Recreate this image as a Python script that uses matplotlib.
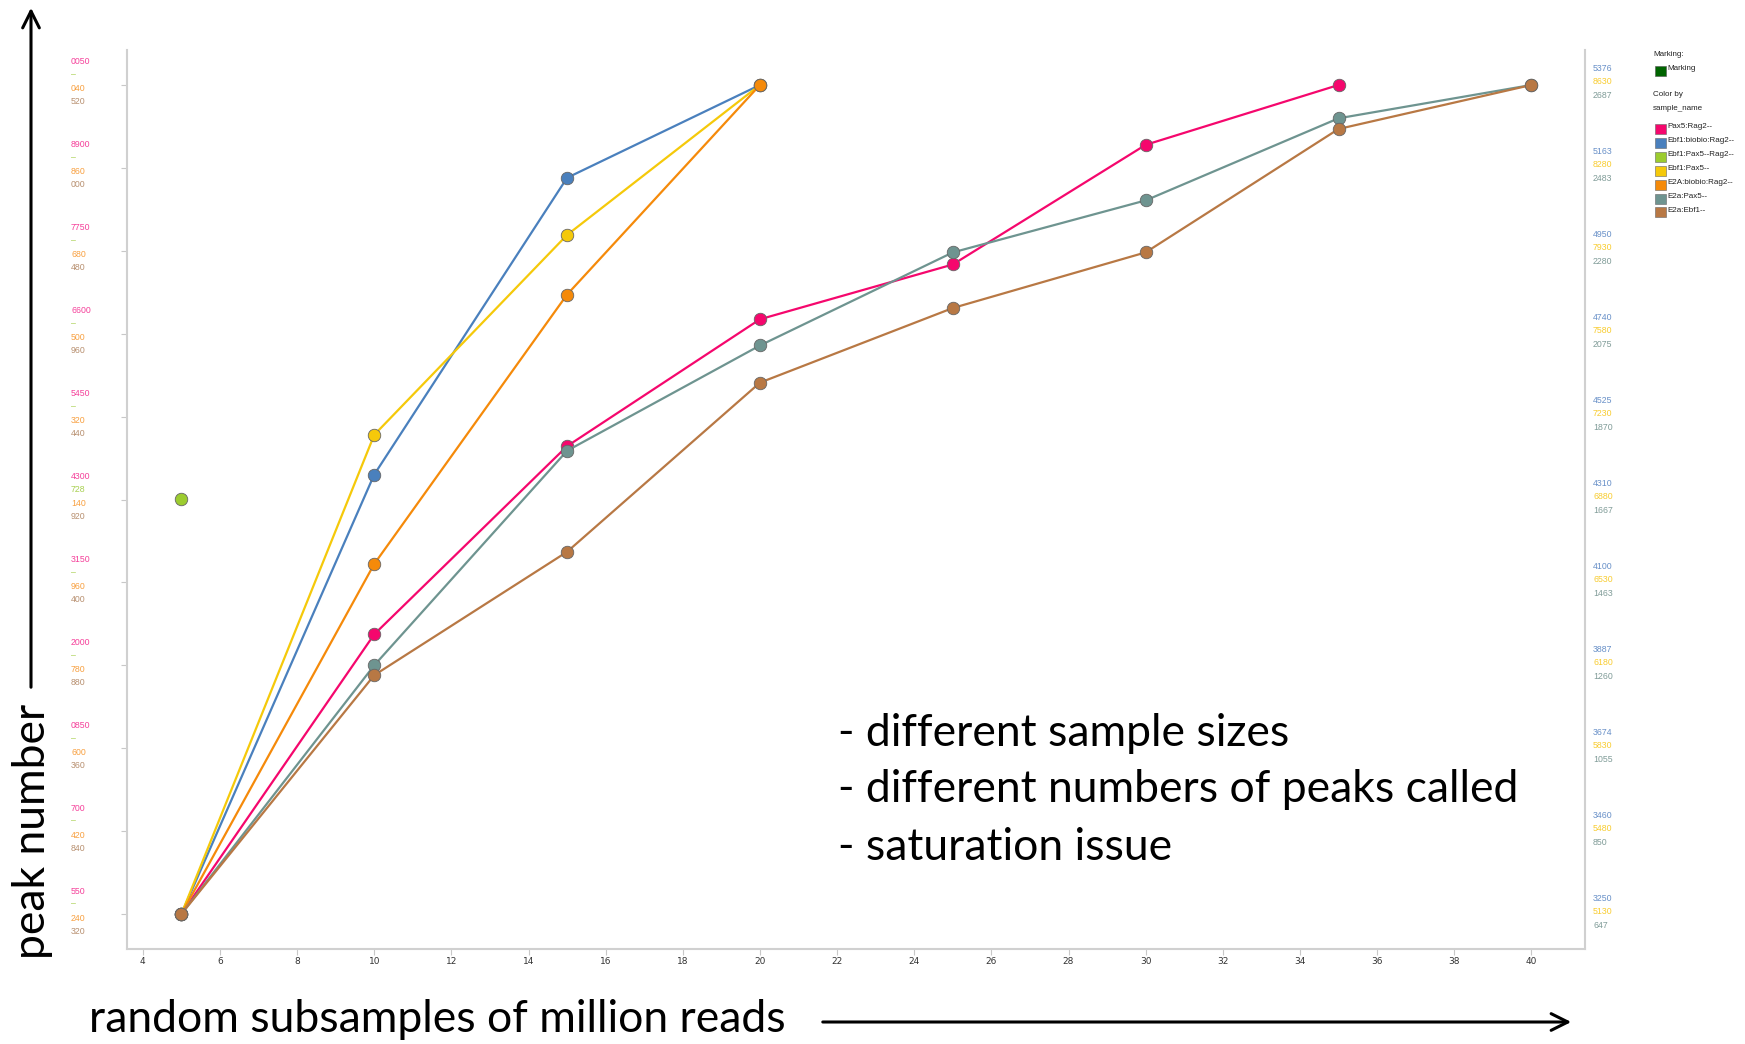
import matplotlib
matplotlib.use('Agg')
import matplotlib.pyplot as plt
from matplotlib.patches import Rectangle, FancyArrowPatch
from matplotlib.transforms import blended_transform_factory, offset_copy

# data: million reads vs peak number, each sample has its own y scale
x_long = [5, 10, 15, 20, 25, 30, 35, 40]
x_short = [5, 10, 15, 20]

pax5_rag2 = [8550, 12430, 15040, 16800, 17560, 19220, 20050]
ebf1_biobio = [3250, 4377, 5138, 5376]
ebf1_pax5_rag2 = [728]
ebf1_pax5 = [5130, 7153, 7997, 8630]
e2a_biobio = [1240, 2000, 2585, 3040]
e2a_pax5 = [647, 1259, 1787, 2046, 2275, 2403, 2605, 2687]
e2a_ebf1 = [320, 1818, 2592, 3653, 4121, 4470, 5244, 5520]

names = ['Pax5:Rag2--', 'Ebf1:biobio:Rag2--', 'Ebf1:Pax5--Rag2--', 'Ebf1:Pax5--',
         'E2A:biobio:Rag2--', 'E2a:Pax5--', 'E2a:Ebf1--']
colors = ['#f5076d', '#4a80bd', '#9ccc2f', '#f5c90a', '#f58a0a', '#6e9490', '#b87844']

# axis tick labels (bottom to top), as shown (clipped) in the original
left_pink = ['550', '700', '0850', '2000', '3150', '4300', '5450', '6600', '7750', '8900', '0050']
left_green = ['–', '–', '–', '–', '–', '728', '–', '–', '–', '–', '–']
left_orange = ['240', '420', '600', '780', '960', '140', '320', '500', '680', '860', '040']
left_brown = ['320', '840', '360', '880', '400', '920', '440', '960', '480', '000', '520']
right_blue = ['3250', '3460', '3674', '3887', '4100', '4310', '4525', '4740', '4950', '5163', '5376']
right_yellow = ['5130', '5480', '5830', '6180', '6530', '6880', '7230', '7580', '7930', '8280', '8630']
right_teal = ['647', '850', '1055', '1260', '1463', '1667', '1870', '2075', '2280', '2483', '2687']

W, H = 1745, 1044
fig = plt.figure(figsize=(W / 100, H / 100), dpi=100)
ax = fig.add_axes([127 / W, 1 - 949 / H, 1458 / W, 899 / H])
ax.set_xlim(3.59, 41.39)
ax.set_ylim(-0.422, 10.422)
ax.set_xticks(range(4, 41, 2))
ax.set_yticks(range(11))
ax.set_yticklabels([])
ax.tick_params(axis='x', length=4, color='#c8c8c8', labelsize=6.5, labelcolor='#333333', pad=2)
ax.tick_params(axis='y', length=4, color='#c8c8c8', left=True, right=True)
for s in ['left', 'right', 'bottom']:
    ax.spines[s].set_color('#d0d0d0')
    ax.spines[s].set_linewidth(1.5)
ax.spines['top'].set_visible(False)


def scale_axis(lo, hi):
    t = ax.twinx()
    pad = 0.422 * (hi - lo) / 10
    t.set_ylim(lo - pad, hi + pad)
    t.axis('off')
    return t


series = [
    (x_long[:7], pax5_rag2, 8550, 20050),
    (x_short, ebf1_biobio, 3250, 5376),
    ([5], ebf1_pax5_rag2, 723, 733),
    (x_short, ebf1_pax5, 5130, 8630),
    (x_short, e2a_biobio, 1240, 3040),
    (x_long, e2a_pax5, 647, 2687),
    (x_long, e2a_ebf1, 320, 5520),
]
axes = []
for (xs, ys, lo, hi), c in zip(series, colors):
    t = scale_axis(lo, hi)
    t.plot(xs, ys, color=c, lw=1.6, marker='o', ms=9, mfc=c, mec='#666666', mew=0.6)
    axes.append(t)

# stacked axis labels
def label_column(twin, labels, lo, hi, xpos, dy, color):
    trans = blended_transform_factory(ax.transAxes, twin.transData)
    trans = offset_copy(trans, fig=fig, y=-dy, units='dots')
    for i, lab in enumerate(labels):
        v = lo + (hi - lo) * i / 10
        ax.text(xpos, v, lab, transform=trans, ha='left', va='center',
                fontsize=6.3, color=color, family='Liberation Sans')

xl = (71 - 127) / 1458
xr = (1593 - 127) / 1458
label_column(axes[0], left_pink, 8550, 20050, xl, -23, '#f5409a')
label_column(axes[2], left_green, 723, 733, xl, -10, '#a8d050')
label_column(axes[4], left_orange, 1240, 3040, xl, 4, '#f8a040')
label_column(axes[6], left_brown, 320, 5520, xl, 17, '#b89070')
label_column(axes[1], right_blue, 3250, 5376, xr, -16, '#6890c8')
label_column(axes[3], right_yellow, 5130, 8630, xr, -3, '#f8cc30')
label_column(axes[5], right_teal, 647, 2687, xr, 11, '#809c98')

# legend (Spotfire style)
def fx(px):
    return px / W

def fy(py):
    return 1 - py / H

lf = dict(fontsize=5.8, family='Liberation Sans', color='#222222', va='center')
fig.text(fx(1653), fy(55), 'Marking:', **lf)
fig.patches.append(Rectangle((fx(1655), fy(76)), 11 / W, 10 / H, transform=fig.transFigure,
                             facecolor='#006400', edgecolor='#555555', lw=0.4))
fig.text(fx(1667), fy(68), 'Marking', **lf)
fig.text(fx(1653), fy(95), 'Color by', **lf)
fig.text(fx(1653), fy(108), 'sample_name', **lf)
for i, (n, c) in enumerate(zip(names, colors)):
    yc = 129 + i * 13.9
    fig.patches.append(Rectangle((fx(1655), fy(yc + 5)), 11 / W, 10 / H, transform=fig.transFigure,
                                 facecolor=c, edgecolor='#666666', lw=0.4))
    fig.text(fx(1667), fy(yc - 2), n, **lf)

# big annotations
big = dict(family='Lato', fontsize=32, color='black')
fig.text(fx(89), fy(1019), 'random subsamples of million reads', ha='left', va='center', **big)
fig.text(fx(33), fy(831), 'peak number', rotation=90, ha='center', va='center', **big)
for i, s in enumerate(['- different sample sizes', '- different numbers of peaks called',
                       '- saturation issue']):
    fig.text(fx(838), fy(733 + 57 * i), s, ha='left', va='center', **big)

arrow = dict(arrowstyle='->', lw=2.2, color='black', mutation_scale=30)
fig.patches.append(FancyArrowPatch((fx(820), fy(1022)), (fx(1574), fy(1022)),
                                   transform=fig.transFigure, **arrow))
fig.patches.append(FancyArrowPatch((fx(31), fy(690)), (fx(31), fy(5)),
                                   transform=fig.transFigure, **arrow))

fig.savefig('out.png', dpi=100)
